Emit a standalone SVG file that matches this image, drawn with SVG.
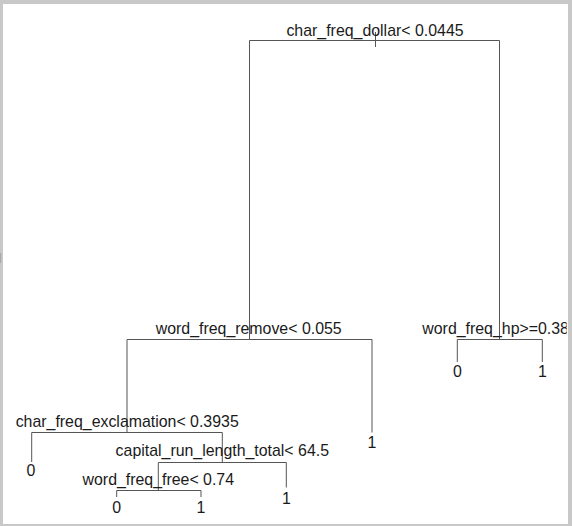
<svg xmlns="http://www.w3.org/2000/svg" width="572" height="526" viewBox="0 0 572 526">
<style>
text{font-family:"Liberation Sans",Arial,sans-serif;font-size:15.9px;fill:#1a1a1a}
.c{text-anchor:middle}
.e path{fill:none;stroke:#555;stroke-width:1}
</style>
<defs><clipPath id="plot"><rect x="0" y="0" width="566.7" height="526"/></clipPath></defs>
<rect x="0" y="0" width="572" height="526" fill="#ffffff"/>
<g id="frame" fill="#c8c8c8">
<rect x="0" y="0" width="572" height="4"/>
<rect x="0" y="0" width="3" height="526"/>
<rect x="568" y="0" width="4" height="526"/>
<rect x="0" y="524" width="572" height="2"/>
<rect x="0" y="253" width="1.2" height="10" fill="#a9a9a9"/>
</g>
<g id="edges" class="e">
<path d="M375.5,32 V47"/>
<path d="M249.5,40.5 H499.5"/>
<path d="M249.5,40.5 V339.5"/>
<path d="M499.5,40.5 V339.5"/>
<path d="M127,339.5 H372"/>
<path d="M457.3,339.5 H542.3"/>
<path d="M457.3,339.5 V362"/>
<path d="M542.3,339.5 V362"/>
<path d="M127,339.5 V432.5"/>
<path d="M372,339.5 V432.5"/>
<path d="M31.7,432.5 H222.3"/>
<path d="M31.7,432.5 V462"/>
<path d="M222.3,432.5 V462.5"/>
<path d="M158.3,462.5 H286.3"/>
<path d="M286.3,462.5 V487.5"/>
<path d="M158.3,462.5 V490.5"/>
<path d="M116.7,490.5 H201"/>
<path d="M116.7,490.5 V497"/>
<path d="M201,490.5 V497"/>
</g>
<g id="n_root"><text class="c" x="375" y="35.5">char_freq_dollar&lt; 0.0445</text></g>
<g id="n_remove"><text class="c" x="248.7" y="334">word_freq_remove&lt; 0.055</text></g>
<g id="n_hp" clip-path="url(#plot)"><text x="422.3" y="334">word_freq_hp&gt;=0.38</text></g>
<g id="n_excl"><text class="c" x="127.2" y="427">char_freq_exclamation&lt; 0.3935</text></g>
<g id="n_capital"><text class="c" x="222.3" y="456">capital_run_length_total&lt; 64.5</text></g>
<g id="n_free"><text class="c" x="158.3" y="485">word_freq_free&lt; 0.74</text></g>
<g id="leaf_hp0"><text class="c" x="457.3" y="377">0</text></g>
<g id="leaf_hp1"><text class="c" x="542.3" y="377">1</text></g>
<g id="leaf_excl0"><text class="c" x="31" y="476">0</text></g>
<g id="leaf_remove1"><text class="c" x="372" y="448">1</text></g>
<g id="leaf_capital1"><text class="c" x="286.3" y="504">1</text></g>
<g id="leaf_free0"><text class="c" x="116.7" y="513">0</text></g>
<g id="leaf_free1"><text class="c" x="201" y="513">1</text></g>
</svg>
